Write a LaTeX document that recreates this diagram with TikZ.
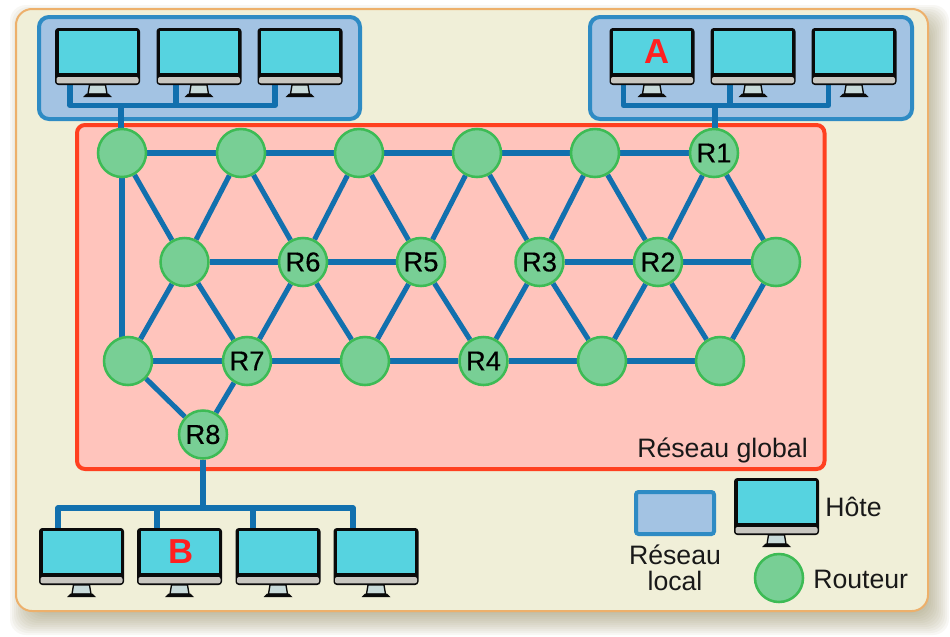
\documentclass[tikz,border=0pt]{standalone}
\usepackage{fontspec}
\setmainfont{Liberation Sans}
\usetikzlibrary{backgrounds}
\definecolor{carte}{HTML}{F0EFD8}
\definecolor{cartebord}{HTML}{EDB06B}
\definecolor{ombre}{HTML}{9A9468}
\definecolor{global}{HTML}{FFC4BC}
\definecolor{globalbord}{HTML}{FF4020}
\definecolor{local}{HTML}{A3C3E3}
\definecolor{localbord}{HTML}{2E8BC4}
\definecolor{lien}{HTML}{1270AE}
\definecolor{routeurfond}{HTML}{78CF95}
\definecolor{routeurbord}{HTML}{3DBB55}
\definecolor{ecran}{HTML}{56D3E0}
\definecolor{menton}{HTML}{C8C6C0}
\definecolor{pied}{HTML}{C8DADA}
\definecolor{marque}{HTML}{FF2020}
\newfontfamily\routeurfont[FakeBold=0.35]{Liberation Sans}
\tikzset{
  texte/.style = {inner sep=0pt, text=black!90, font=\fontsize{20}{19.5}\selectfont},
  routeur/.style = {circle, draw=routeurbord, fill=routeurfond, line width=1.9pt,
    minimum size=36pt, inner sep=0pt, text=black, font=\routeurfont\fontsize{20.5}{24}\selectfont},
  reseau/.style = {draw=localbord, fill=local, line width=3pt, rounded corners=7.5pt},
  liaison/.style = {draw=lien, line width=3.8pt, line join=round},
  lettre/.style = {inner sep=0pt, text=marque, font=\fontsize{26}{30}\selectfont\bfseries},
  hote/.pic = {
    \fill[black!96, rounded corners=2.5pt] (-42.5,0) rectangle (42.5,57);
    \fill[ecran] (-39,3) rectangle (39,44.7);
    \fill[menton, rounded corners=1.5pt] (-41,49) -- (41,49) -- (41,55.3) -- (-41,55.3) -- cycle;
    \filldraw[fill=pied, draw=black!96, line width=1pt] (-8,57) -- (8,57) -- (9.5,66) -- (-9.5,66) -- cycle;
    \fill[black!96] (-11,65.5) -- (11,65.5) -- (14.5,69) -- (-14.5,69) -- cycle;
    \coordinate (-haut) at (0,0);
    \coordinate (-bas) at (0,57);
    \coordinate (-ecran) at (0,24);
  },
}
\begin{document}
\begin{tikzpicture}[x=0.75pt, y=-0.75pt]
\useasboundingbox (0,0) rectangle (950,636);
% hotes
\pic (h1) at (97.5,28) {hote};
\pic (h2) at (199,28) {hote};
\pic (h3) at (300,28) {hote};
\pic (h4) at (652,28) {hote};
\pic (h5) at (753,28) {hote};
\pic (h6) at (854,28) {hote};
\pic (h7) at (81.5,528) {hote};
\pic (h8) at (179.5,528) {hote};
\pic (h9) at (278,528) {hote};
\pic (h10) at (376,528) {hote};
\pic (h11) at (776.5,478) {hote};
\node[lettre] (lettreA) at ([xshift=3.75pt]h4-ecran) {A};
\node[lettre] (lettreB) at ([xshift=1.5pt]h8-ecran) {B};
% routeurs
\node[routeur] (t1) at (122,153) {};
\node[routeur] (t2) at (241,153) {};
\node[routeur] (t3) at (359,153) {};
\node[routeur] (t4) at (477,153) {};
\node[routeur] (t5) at (595,153) {};
\node[routeur] (R1) at (714,153) {R1};
\node[routeur] (m1) at (184.5,262) {};
\node[routeur] (R6) at (303,262) {R6};
\node[routeur] (R5) at (421,262) {R5};
\node[routeur] (R3) at (539.5,262) {R3};
\node[routeur] (R2) at (658,262) {R2};
\node[routeur] (m6) at (776,262) {};
\node[routeur] (b1) at (128,361) {};
\node[routeur] (R7) at (247,361) {R7};
\node[routeur] (b3) at (365,361) {};
\node[routeur] (R4) at (483.5,361) {R4};
\node[routeur] (b5) at (602,361) {};
\node[routeur] (b6) at (720,361) {};
\node[routeur] (R8) at (203,434.5) {R8};
% legende
\node[routeur] (legrouteur) at (779,578) {};
\node[texte, anchor=base west] (global) at (637,457) {Réseau global};
\node[texte, anchor=base west] (hote) at (825,516) {Hôte};
\node[texte, anchor=base west] (routeurtxt) at (813,588) {Routeur};
\node[texte, align=center, anchor=center] (localtxt) at (675,568) {Réseau\\local};
% bus
\coordinate (la1) at (70,105.5);
\coordinate (la2) at (176,105.5);
\coordinate (la3) at (275,105.5);
\coordinate (la4) at (121,105.5);
\coordinate (lb1) at (623.5,105.5);
\coordinate (lb2) at (730,105.5);
\coordinate (lb3) at (828.5,105.5);
\coordinate (lb4) at (715,105.5);
\coordinate (lc1) at (58,508);
\coordinate (lc2) at (157,508);
\coordinate (lc3) at (253,508);
\coordinate (lc4) at (353,508);
\coordinate (lc5) at (203,508);
\begin{scope}[on background layer]
\fill[white] (0,0) rectangle (950,636);
% ombre
\foreach \i in {-10,-8,...,14}
  \fill[ombre, opacity=0.065, rounded corners=12pt] (24-\i,19-\i) rectangle (935+\i,621+\i);
\filldraw[fill=carte, draw=cartebord, line width=1.5pt, rounded corners=12pt] (16,9) rectangle (928,611);
\filldraw[fill=global, draw=globalbord, line width=3pt, rounded corners=6pt] (77,125) rectangle (824.5,469);
\path[reseau] (39,17) rectangle (360,119);
\path[reseau] (590,17) rectangle (912,119);
\path[reseau, line width=3pt, rounded corners=2pt] (636,492) rectangle (714,534);
% liaisons
\draw[liaison] (h1-bas -| la1) -- (la1) -- (la3) -- (h3-bas -| la3);
\draw[liaison] (h2-bas -| la2) -- (la2);
\draw[liaison] (la4) -- (t1 -| la4);
\draw[liaison] (h4-bas -| lb1) -- (lb1) -- (lb3) -- (h6-bas -| lb3);
\draw[liaison] (h5-bas -| lb2) -- (lb2);
\draw[liaison] (lb4) -- (R1 -| lb4);
\draw[liaison] (h7-haut -| lc1) -- (lc1) -- (lc4) -- (h10-haut -| lc4);
\draw[liaison] (h8-haut -| lc2) -- (lc2);
\draw[liaison] (h9-haut -| lc3) -- (lc3);
\draw[liaison] (R8) -- (lc5);
\draw[liaison] (t1) -- (t2) -- (t3) -- (t4) -- (t5) -- (R1);
\draw[liaison] (m1) -- (R6) -- (R5);
\draw[liaison] (R3) -- (R2) -- (m6);
\draw[liaison] (b1) -- (R7) -- (b3) -- (R4) -- (b5) -- (b6);
\draw[liaison] (t1) -- (t1 |- b1);
\draw[liaison] (t1) -- (m1) -- (t2) -- (R6) -- (t3) -- (R5) -- (t4) -- (R3) -- (t5) -- (R2) -- (R1) -- (m6);
\draw[liaison] (b1) -- (m1) -- (R7) -- (R6) -- (b3) -- (R5) -- (R4) -- (R3) -- (b5) -- (R2) -- (b6) -- (m6);
\draw[liaison] (b1) -- (R8) -- (R7);
\end{scope}
\end{tikzpicture}
\end{document}
